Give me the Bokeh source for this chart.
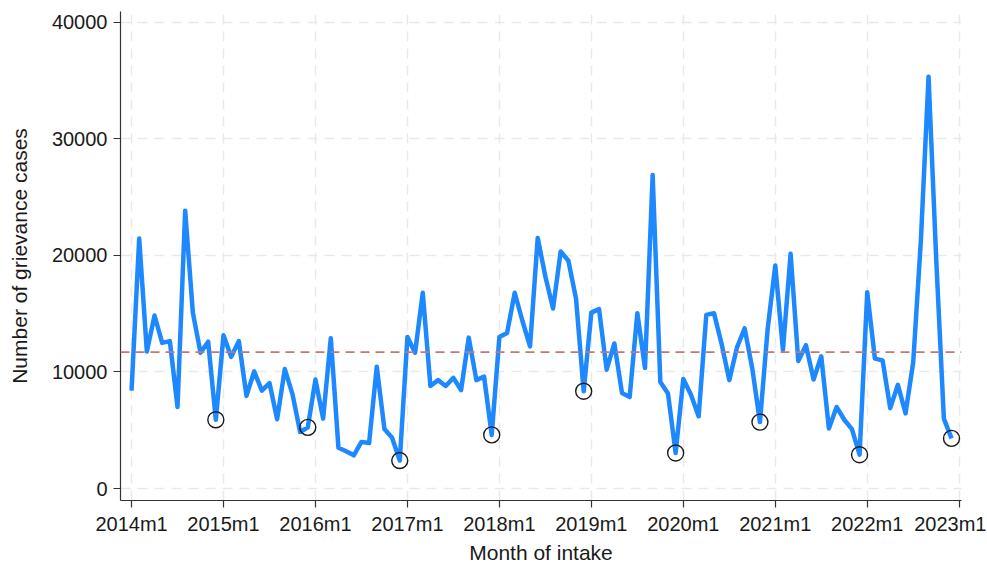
from bokeh.plotting import figure
from bokeh.models import Range1d, FixedTicker, Span
from bokeh.embed import file_html
from bokeh.resources import INLINE

# ---- data (monthly intake, 2014m1 .. 2022m12) ----
cases = [
    8400, 21450, 11750, 14850, 12500, 12650, 7000, 23850, 15100, 11650, 12600, 5900,      # 2014
    13150, 11300, 12650, 7950, 10050, 8400, 9050, 5950, 10250, 8100, 4850, 5250,          # 2015
    9350, 6000, 12900, 3500, 3200, 2850, 4000, 3900, 10450, 5100, 4350, 2400,             # 2016
    13000, 11650, 16800, 8800, 9300, 8800, 9500, 8450, 12950, 9300, 9600, 4600,           # 2017
    13000, 13350, 16800, 14400, 12200, 21500, 18200, 15450, 20350, 19550, 16300, 8350,    # 2018
    15100, 15400, 10200, 12450, 8200, 7850, 15050, 10350, 26900, 9150, 8150, 3050,        # 2019
    9400, 8050, 6200, 14900, 15050, 12400, 9300, 12100, 13750, 10300, 5700, 13650,        # 2020
    19150, 11900, 20150, 10950, 12300, 9350, 11350, 5150, 7000, 5900, 5100, 2900,         # 2021
    16850, 11150, 11000, 6900, 8900, 6450, 10850, 21300, 35350, 19700, 6000, 4300,        # 2022
]
months = list(range(len(cases)))

# highlighted (circled) months, as month indices from 2014m1
marked_months = [11, 23, 35, 47, 59, 71, 82, 95, 107]
marked_cases = [cases[i] for i in marked_months]

mean_cases = 11700

x_tick_months = [0, 12, 24, 36, 48, 60, 72, 84, 96, 108]
x_tick_labels = ["2014m1", "2015m1", "2016m1", "2017m1", "2018m1",
                 "2019m1", "2020m1", "2021m1", "2022m1", "2023m1"]
y_ticks = [0, 10000, 20000, 30000, 40000]
y_tick_labels = ["0", "10000", "20000", "30000", "40000"]

FONT = "Liberation Sans"
TXT = "#1a1a1a"

p = figure(
    width=986, height=566,
    output_backend="svg", toolbar_location=None,
    x_range=Range1d(-1.44, 108.3), y_range=Range1d(-1030, 40944),
    min_border_left=120, min_border_right=25, min_border_top=11, min_border_bottom=66,
)
p.outline_line_color = None
p.background_fill_color = "white"
p.border_fill_color = "white"

# grids
for g in (p.xgrid, p.ygrid):
    g.grid_line_color = "#e9e9e9"
    g.grid_line_width = 1.5
    g.grid_line_dash = "10 7"
p.xgrid.ticker = FixedTicker(ticks=x_tick_months)
p.ygrid.ticker = FixedTicker(ticks=y_ticks)

# axes
p.xaxis.ticker = FixedTicker(ticks=x_tick_months)
p.xaxis.major_label_overrides = {m: l for m, l in zip(x_tick_months, x_tick_labels)}
p.yaxis.ticker = FixedTicker(ticks=y_ticks)
p.yaxis.major_label_overrides = {v: l for v, l in zip(y_ticks, y_tick_labels)}
p.xaxis.axis_label = "Month of intake"
p.yaxis.axis_label = "Number of grievance cases"

for ax in (p.xaxis, p.yaxis):
    ax.axis_line_color = "#333333"
    ax.axis_line_width = 1.2
    ax.major_tick_line_color = "#333333"
    ax.major_tick_line_width = 1.2
    ax.major_tick_out = 7
    ax.major_tick_in = 0
    ax.minor_tick_line_color = None
    ax.major_label_text_font = FONT
    ax.major_label_text_font_size = "20px"
    ax.major_label_text_color = TXT
    ax.axis_label_text_font = FONT
    ax.axis_label_text_font_size = "21px"
    ax.axis_label_text_font_style = "normal"
    ax.axis_label_text_color = TXT

p.xaxis.major_label_standoff = 5
p.xaxis.axis_label_standoff = 3
p.yaxis.major_label_standoff = 6
p.yaxis.axis_label_standoff = 18
p.yaxis.major_label_orientation = "horizontal"

# mean reference line
p.add_layout(Span(location=mean_cases, dimension="width",
                  line_color="#c07a74", line_width=1.8, line_dash="9 6"))

# series
p.line(months, cases, line_color="#1e88ff", line_width=4.5, line_join="round")

# circled months
p.scatter(marked_months, marked_cases, marker="circle", size=16,
          fill_color=None, line_color="#1a1a1a", line_width=1.4)

open("out.html", "w").write(file_html(p, INLINE))
